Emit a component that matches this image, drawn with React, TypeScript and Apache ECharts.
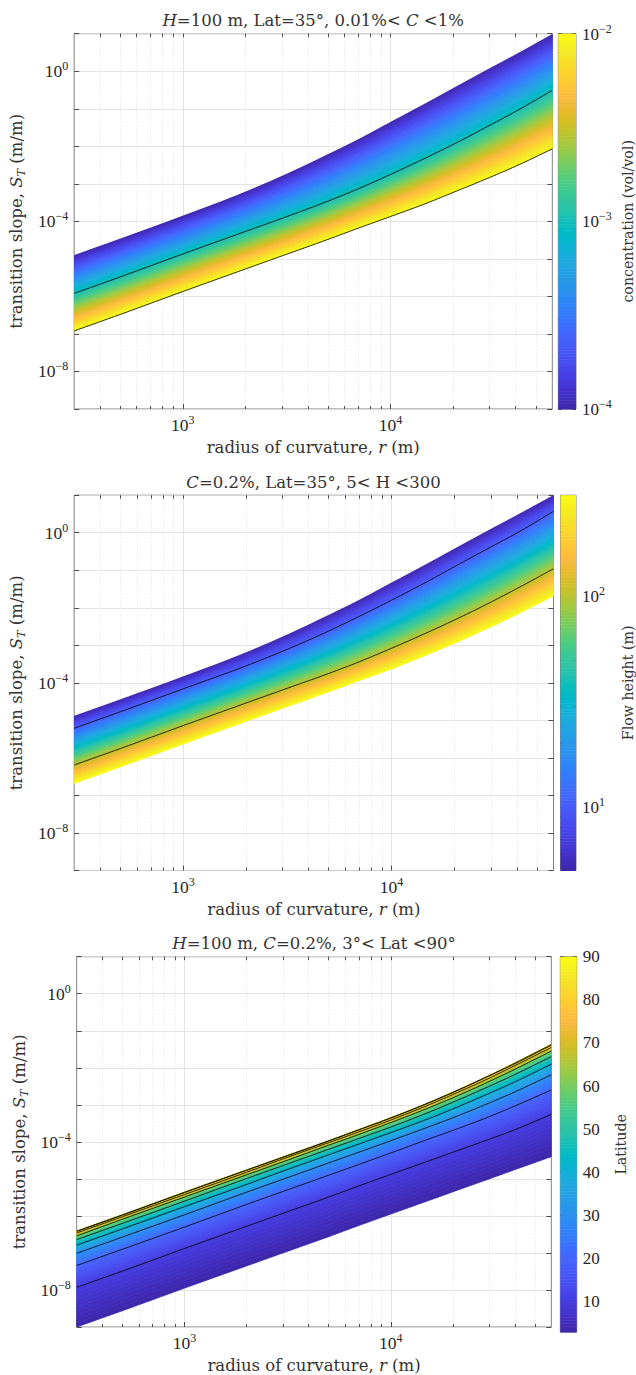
import { useEffect, useRef } from 'react';
import * as echarts from 'echarts';

// ---------------- data (log10 of transition slope S_T) ----------------
const R_M = [300, 500, 1000, 2000, 3000, 5000, 7000, 10000, 15000, 20000, 30000, 40000, 60000];

// Panel 1: H=100 m, Lat=35°, concentration C (vol/vol)
const P1_C = [1e-4, 1e-3, 1e-2];
const P1_C1E4 = [-4.91, -4.47, -3.86, -3.22, -2.8, -2.22, -1.82, -1.36, -0.84, -0.46, 0.07, 0.44, 0.98];
const P1_C1E3 = [-5.92, -5.48, -4.87, -4.27, -3.92, -3.46, -3.13, -2.75, -2.29, -1.95, -1.44, -1.07, -0.51];
const P1_C1E2 = [-6.92, -6.48, -5.87, -5.27, -4.92, -4.48, -4.18, -3.87, -3.51, -3.23, -2.83, -2.53, -2.07];

// Panel 2: C=0.2%, Lat=35°, flow height H (m)
const P2_H = [5, 10, 100, 300];
const P2_H5 = [-4.89, -4.45, -3.84, -3.2, -2.78, -2.2, -1.8, -1.34, -0.82, -0.44, 0.09, 0.46, 0.99];
const P2_H10 = [-5.21, -4.77, -4.16, -3.55, -3.16, -2.62, -2.23, -1.8, -1.29, -0.91, -0.38, -0.01, 0.57];
const P2_H100 = [-6.19, -5.75, -5.14, -4.54, -4.19, -3.75, -3.44, -3.08, -2.65, -2.33, -1.85, -1.49, -0.96];
const P2_H300 = [-6.68, -6.24, -5.63, -5.03, -4.68, -4.24, -3.94, -3.63, -3.24, -2.95, -2.51, -2.18, -1.68];

// Panel 3: H=100 m, C=0.2%, latitude (deg)
const P3_LAT = [3, 10, 20, 30, 40, 50, 60, 70, 80, 90];
const P3_L3 = [-9.0, -8.56, -7.95, -7.35, -7.0, -6.56, -6.26, -5.95, -5.6, -5.35, -5.0, -4.75, -4.4];
const P3_L10 = [-7.93, -7.49, -6.88, -6.28, -5.93, -5.49, -5.19, -4.88, -4.53, -4.28, -3.93, -3.67, -3.26];
const P3_L20 = [-7.34, -6.9, -6.3, -5.69, -5.34, -4.9, -4.61, -4.3, -3.94, -3.69, -3.32, -3.03, -2.6];
const P3_L30 = [-7.01, -6.57, -5.97, -5.36, -5.01, -4.57, -4.28, -3.97, -3.61, -3.35, -2.95, -2.65, -2.19];
const P3_L40 = [-6.79, -6.35, -5.75, -5.15, -4.79, -4.35, -4.06, -3.75, -3.39, -3.11, -2.69, -2.38, -1.9];
const P3_L50 = [-6.64, -6.2, -5.6, -4.99, -4.64, -4.2, -3.91, -3.6, -3.22, -2.93, -2.5, -2.18, -1.7];
const P3_L60 = [-6.54, -6.09, -5.49, -4.89, -4.54, -4.09, -3.8, -3.48, -3.1, -2.81, -2.37, -2.04, -1.55];
const P3_L70 = [-6.46, -6.02, -5.42, -4.82, -4.46, -4.02, -3.73, -3.41, -3.02, -2.72, -2.28, -1.94, -1.45];
const P3_L80 = [-6.42, -5.98, -5.37, -4.77, -4.42, -3.98, -3.68, -3.36, -2.97, -2.67, -2.22, -1.89, -1.39];
const P3_L90 = [-6.41, -5.97, -5.36, -4.76, -4.41, -3.97, -3.67, -3.35, -2.96, -2.66, -2.21, -1.87, -1.37];

// axes
const R_MIN = 300;
const R_MAX = 60000;
const S_EXP_MIN = -9;
const S_EXP_MAX = 1;
const X_LABEL_EXP = [3, 4];
const Y_LABEL_EXP = [-8, -4, 0];
const CB3_LABELS = [10, 20, 30, 40, 50, 60, 70, 80, 90];

// ---------------- parula colormap ----------------
const PARULA = [
  [0.2422, 0.1504, 0.6603], [0.2504, 0.165, 0.7076], [0.2578, 0.1818, 0.7511], [0.2647, 0.1978, 0.7952],
  [0.2706, 0.2147, 0.8364], [0.2751, 0.2342, 0.871], [0.2783, 0.2559, 0.8991], [0.2803, 0.2782, 0.9221],
  [0.2813, 0.3006, 0.9414], [0.281, 0.3228, 0.9579], [0.2795, 0.3447, 0.9717], [0.276, 0.3667, 0.9829],
  [0.2699, 0.3892, 0.9906], [0.2602, 0.4123, 0.9952], [0.244, 0.4358, 0.9988], [0.2206, 0.4603, 0.9973],
  [0.1963, 0.4847, 0.9892], [0.1834, 0.5074, 0.9798], [0.1786, 0.5289, 0.9682], [0.1764, 0.5499, 0.952],
  [0.1687, 0.5703, 0.9359], [0.154, 0.5902, 0.9218], [0.146, 0.6091, 0.9079], [0.138, 0.6276, 0.8973],
  [0.1248, 0.6459, 0.8883], [0.1113, 0.6635, 0.8763], [0.0952, 0.6798, 0.8598], [0.0689, 0.6948, 0.8394],
  [0.0297, 0.7082, 0.8163], [0.0036, 0.7203, 0.7917], [0.0067, 0.7312, 0.766], [0.0433, 0.7411, 0.7394],
  [0.0964, 0.75, 0.712], [0.1408, 0.7584, 0.6842], [0.1717, 0.767, 0.6554], [0.1938, 0.7758, 0.6251],
  [0.2161, 0.7843, 0.5923], [0.247, 0.7918, 0.5567], [0.2906, 0.7973, 0.5188], [0.3406, 0.8008, 0.4789],
  [0.3909, 0.8029, 0.4354], [0.4456, 0.8024, 0.3909], [0.5044, 0.7993, 0.348], [0.5616, 0.7942, 0.3045],
  [0.6174, 0.7876, 0.2612], [0.672, 0.7793, 0.2227], [0.7242, 0.7698, 0.191], [0.7738, 0.7598, 0.1646],
  [0.8203, 0.7498, 0.1535], [0.8634, 0.7406, 0.1596], [0.9035, 0.733, 0.1774], [0.9393, 0.7288, 0.21],
  [0.9728, 0.7298, 0.2394], [0.9956, 0.7434, 0.2371], [0.997, 0.7659, 0.2199], [0.9952, 0.7893, 0.2028],
  [0.9892, 0.8136, 0.1885], [0.9786, 0.8386, 0.1766], [0.9676, 0.8639, 0.1643], [0.961, 0.889, 0.1537],
  [0.9597, 0.9135, 0.1423], [0.9628, 0.9373, 0.1265], [0.9691, 0.9606, 0.1064], [0.9769, 0.9839, 0.0805],
];
function parula(t: number): string {
  const tt = Math.max(0, Math.min(1, t));
  const f = tt * (PARULA.length - 1);
  const i = Math.min(PARULA.length - 2, Math.floor(f));
  const u = f - i;
  const a = PARULA[i];
  const b = PARULA[i + 1];
  const c = [0, 1, 2].map((k) => Math.round(255 * (a[k] + (b[k] - a[k]) * u)));
  return `rgb(${c[0]},${c[1]},${c[2]})`;
}

// smooth drawing of a read curve (cubic Hermite through the read points, like a smoothed line)
function smoothPath(xs: number[], ys: number[], per: number): number[][] {
  const n = xs.length;
  const m: number[] = [];
  for (let i = 0; i < n; i++) {
    if (i === 0) m.push((ys[1] - ys[0]) / (xs[1] - xs[0]));
    else if (i === n - 1) m.push((ys[n - 1] - ys[n - 2]) / (xs[n - 1] - xs[n - 2]));
    else {
      const h0 = xs[i] - xs[i - 1];
      const h1 = xs[i + 1] - xs[i];
      const d0 = (ys[i] - ys[i - 1]) / h0;
      const d1 = (ys[i + 1] - ys[i]) / h1;
      m.push((d0 * h1 + d1 * h0) / (h0 + h1));
    }
  }
  const out: number[][] = [];
  for (let i = 0; i < n - 1; i++) {
    const h = xs[i + 1] - xs[i];
    for (let s = 0; s < per; s++) {
      const t = s / per;
      const t2 = t * t;
      const t3 = t2 * t;
      const y = (2 * t3 - 3 * t2 + 1) * ys[i] + (t3 - 2 * t2 + t) * h * m[i] + (-2 * t3 + 3 * t2) * ys[i + 1] + (t3 - t2) * h * m[i + 1];
      out.push([xs[i] + t * h, y]);
    }
  }
  out.push([xs[n - 1], ys[n - 1]]);
  return out;
}

// ---------------- layout ----------------
const NUM_FONT = '"Liberation Serif", serif';
const WORD_FONT = '"DejaVu Serif", "Liberation Serif", serif';
const TXT = '#262626';
const WTXT = '#333333';
const PLOT_H = 375.3;
const LAYOUT = [
  { top: 33.7, left: 74, right: 552.3, cbL: 558.3, cbR: 576.7 },
  { top: 495.2, left: 73.5, right: 553.5, cbL: 560.5, cbR: 578 },
  { top: 956.7, left: 76.7, right: 551.3, cbL: 560.3, cbR: 576.7 },
];

const supRich = {
  b: { fontFamily: NUM_FONT, fontSize: 17.5, color: TXT, verticalAlign: 'bottom', lineHeight: 18 },
  s: { fontFamily: NUM_FONT, fontSize: 12, color: TXT, verticalAlign: 'bottom', lineHeight: 12, padding: [0, 0, 8, 0] },
};
const cbSupRich = {
  b: { fontFamily: NUM_FONT, fontSize: 17, color: TXT, verticalAlign: 'bottom', lineHeight: 18 },
  s: { fontFamily: NUM_FONT, fontSize: 12, color: TXT, verticalAlign: 'bottom', lineHeight: 12, padding: [0, 0, 8, 0] },
};
const textRich = {
  i: { fontFamily: WORD_FONT, fontSize: 16.5, fontStyle: 'italic', color: WTXT },
  sub: { fontFamily: WORD_FONT, fontSize: 11.5, fontStyle: 'italic', color: WTXT, verticalAlign: 'top', padding: [9, 0, 0, 0] },
};
function powLabel(v: number): string {
  const e = Math.round(v);
  return `{b|10}{s|${e < 0 ? '\u2212' + -e : e}}`;
}
function range(a: number, b: number): number[] {
  const out: number[] = [];
  for (let i = a; i <= b; i++) out.push(i);
  return out;
}
function logMinor(lo: number, hi: number): number[] {
  const out: number[] = [];
  for (let e = Math.floor(lo) - 1; e <= Math.ceil(hi); e++) {
    for (let m = 2; m <= 9; m++) {
      const v = e + Math.log10(m);
      if (v > lo + 1e-6 && v < hi - 1e-6) out.push(v);
    }
  }
  return out;
}

type PanelDef = {
  title: string;
  curves: number[][];
  params: number[];
  black: number[];
  cbMin: number;
  cbMax: number;
  cbLabels: number[];
  cbTicks: number[];
  cbLog: boolean;
  cbName: string;
};

const PANELS: PanelDef[] = [
  {
    title: '{i|H}=100 m, Lat=35°, 0.01%< {i|C} <1%',
    curves: [P1_C1E4, P1_C1E3, P1_C1E2],
    params: P1_C.map(Math.log10),
    black: [1, 2],
    cbMin: Math.log10(P1_C[0]),
    cbMax: Math.log10(P1_C[2]),
    cbLabels: [-4, -3, -2],
    cbTicks: [...range(-4, -2), ...logMinor(-4, -2)],
    cbLog: true,
    cbName: 'concentration (vol/vol)',
  },
  {
    title: '{i|C}=0.2%, Lat=35°, 5< H <300',
    curves: [P2_H5, P2_H10, P2_H100, P2_H300],
    params: P2_H.map(Math.log10),
    black: [1, 2],
    cbMin: Math.log10(P2_H[0]),
    cbMax: Math.log10(P2_H[3]),
    cbLabels: [1, 2],
    cbTicks: [1, 2, ...logMinor(Math.log10(5), Math.log10(300))],
    cbLog: true,
    cbName: 'Flow height (m)',
  },
  {
    title: '{i|H}=100 m, {i|C}=0.2%, 3°< Lat <90°',
    curves: [P3_L3, P3_L10, P3_L20, P3_L30, P3_L40, P3_L50, P3_L60, P3_L70, P3_L80, P3_L90],
    params: P3_LAT,
    black: [1, 2, 3, 4, 5, 6, 7, 8, 9],
    cbMin: 3,
    cbMax: 90,
    cbLabels: CB3_LABELS,
    cbTicks: CB3_LABELS,
    cbLog: false,
    cbName: 'Latitude',
  },
];

function buildOption() {
  const X_MIN = Math.log10(R_MIN);
  const X_MAX = Math.log10(R_MAX);
  const LOG_R = R_M.map(Math.log10);
  const PER = 8;
  const xMinor = logMinor(X_MIN, X_MAX).filter((v) => Math.abs(v - Math.round(v)) > 1e-6);
  const grid: any[] = [];
  const xAxis: any[] = [];
  const yAxis: any[] = [];
  const series: any[] = [];
  const graphic: any[] = [];
  const tickStyle = { color: TXT, width: 0.8 };

  PANELS.forEach((P, p) => {
    const L = LAYOUT[p];
    const gi = grid.length;
    grid.push({ left: L.left, top: L.top, width: L.right - L.left, height: PLOT_H, show: true, borderColor: '#808080', borderWidth: 1, backgroundColor: '#ffffff', z: 0 });
    const xi = xAxis.length;
    xAxis.push({
      type: 'value', gridIndex: gi, min: X_MIN, max: X_MAX, position: 'bottom',
      axisLine: { show: false, onZero: false },
      axisTick: { show: true, inside: true, length: 5, customValues: X_LABEL_EXP, lineStyle: tickStyle },
      axisLabel: { customValues: X_LABEL_EXP, formatter: powLabel, rich: supRich, margin: 7 },
      splitLine: { show: true, lineStyle: { color: '#dcdcdc', width: 0.8 } },
      name: 'radius of curvature, {i|r} (m)', nameLocation: 'middle', nameGap: 30,
      nameTextStyle: { fontFamily: WORD_FONT, fontSize: 16.5, color: WTXT, rich: textRich },
    });
    xAxis.push({
      type: 'value', gridIndex: gi, min: X_MIN, max: X_MAX, position: 'bottom',
      axisLine: { show: false, onZero: false },
      axisTick: { show: true, inside: true, length: 3, customValues: xMinor, lineStyle: tickStyle },
      axisLabel: { show: false },
      splitLine: { show: true, lineStyle: { color: '#e2e2e2', width: 0.8, type: [1.5, 2] } },
    });
    xAxis.push({
      type: 'value', gridIndex: gi, min: X_MIN, max: X_MAX, position: 'top',
      axisLine: { show: false, onZero: false },
      axisTick: { show: true, inside: true, length: 3.5, customValues: [...X_LABEL_EXP, ...xMinor], lineStyle: tickStyle },
      axisLabel: { show: false },
      splitLine: { show: false },
    });
    const yi = yAxis.length;
    yAxis.push({
      type: 'value', gridIndex: gi, min: S_EXP_MIN, max: S_EXP_MAX, position: 'left',
      axisLine: { show: false, onZero: false },
      axisTick: { show: true, inside: true, length: 5, customValues: range(S_EXP_MIN, S_EXP_MAX), lineStyle: tickStyle },
      axisLabel: { customValues: Y_LABEL_EXP, formatter: powLabel, rich: supRich, margin: 6 },
      splitLine: { show: true, lineStyle: { color: '#dedede', width: 0.8 } },
      name: 'transition slope, {i|S}{sub|T} (m/m)', nameLocation: 'middle', nameGap: 40, nameRotate: 90,
      nameTextStyle: { fontFamily: WORD_FONT, fontSize: 16.5, color: WTXT, rich: textRich },
    });
    yAxis.push({
      type: 'value', gridIndex: gi, min: S_EXP_MIN, max: S_EXP_MAX, position: 'right',
      axisLine: { show: false, onZero: false },
      axisTick: { show: true, inside: true, length: 5, customValues: range(S_EXP_MIN, S_EXP_MAX), lineStyle: tickStyle },
      axisLabel: { show: false },
      splitLine: { show: false },
    });

    // ---- colour band (filled between the read curves, coloured by the colour-bar variable) ----
    const items: number[][] = [];
    const subs: number[] = [];
    const span = Math.abs(P.cbMax - P.cbMin);
    for (let k = 0; k < P.curves.length - 1; k++) {
      const n = Math.max(10, Math.round((Math.abs(P.params[k + 1] - P.params[k]) / span) * 90));
      subs.push(n);
      for (let j = 0; j < n; j++) items.push([LOG_R[0], P.curves[k][0], k, j]);
    }
    series.push({
      type: 'custom', xAxisIndex: xi, yAxisIndex: yi, silent: true, clip: true, z: 2,
      encode: { x: 0, y: 1 },
      data: items,
      renderItem: (_params: any, api: any) => {
        const k = api.value(2);
        const j = api.value(3);
        const n = subs[k];
        const t0 = j / n;
        const t1 = (j + 1) / n;
        const A = P.curves[k];
        const B = P.curves[k + 1];
        const y0 = A.map((a, i) => a + (B[i] - a) * t0);
        const y1 = A.map((a, i) => a + (B[i] - a) * t1);
        const upper = smoothPath(LOG_R, y0, PER).map((d) => api.coord(d));
        const lower = smoothPath(LOG_R, y1, PER).map((d) => api.coord(d));
        const pv = P.params[k] + (P.params[k + 1] - P.params[k]) * ((t0 + t1) / 2);
        const col = parula((pv - P.cbMin) / (P.cbMax - P.cbMin));
        return {
          type: 'polygon',
          shape: { points: upper.concat(lower.reverse()) },
          style: { fill: col, stroke: col, lineWidth: 0.8 },
        };
      },
    });
    // ---- black reference curves ----
    series.push({
      type: 'custom', xAxisIndex: xi, yAxisIndex: yi, silent: true, clip: true, z: 3,
      encode: { x: 0, y: 1 },
      data: P.black.map((k) => [LOG_R[0], P.curves[k][0], k]),
      renderItem: (_params: any, api: any) => {
        const k = api.value(2);
        const pts = smoothPath(LOG_R, P.curves[k], PER).map((d) => api.coord(d));
        return { type: 'polyline', shape: { points: pts }, style: { stroke: '#000000', lineWidth: 0.8, fill: null } };
      },
    });

    // ---- colour bar ----
    const cg = grid.length;
    grid.push({ left: L.cbL, top: L.top, width: L.cbR - L.cbL, height: PLOT_H, show: true, borderColor: '#808080', borderWidth: 1 });
    const cx = xAxis.length;
    xAxis.push({ type: 'value', gridIndex: cg, min: 0, max: 1, show: false });
    const cy = yAxis.length;
    yAxis.push({
      type: 'value', gridIndex: cg, min: P.cbMin, max: P.cbMax, position: 'right',
      axisLine: { show: false, onZero: false },
      axisTick: { show: true, inside: true, length: 3.5, customValues: P.cbTicks, lineStyle: tickStyle },
      axisLabel: P.cbLog
        ? { customValues: P.cbLabels, formatter: powLabel, rich: cbSupRich, margin: 6 }
        : { customValues: P.cbLabels, fontFamily: NUM_FONT, fontSize: 17, color: TXT, margin: 6 },
      splitLine: { show: false },
      name: P.cbName, nameLocation: 'middle', nameGap: P.cbLog ? 45 : 37, nameRotate: 90,
      nameTextStyle: { fontFamily: WORD_FONT, fontSize: 14.2, color: WTXT },
    });
    yAxis.push({
      type: 'value', gridIndex: cg, min: P.cbMin, max: P.cbMax, position: 'left',
      axisLine: { show: false, onZero: false },
      axisTick: { show: true, inside: true, length: 3.5, customValues: P.cbTicks, lineStyle: tickStyle },
      axisLabel: { show: false },
      splitLine: { show: false },
    });
    const NCB = 128;
    const cbItems: number[][] = [];
    for (let k = 0; k < NCB; k++) cbItems.push([0.5, P.cbMin + ((k + 0.5) / NCB) * (P.cbMax - P.cbMin), k]);
    series.push({
      type: 'custom', xAxisIndex: cx, yAxisIndex: cy, silent: true, z: 1,
      encode: { x: 0, y: 1 },
      data: cbItems,
      renderItem: (_params: any, api: any) => {
        const k = api.value(2);
        const v0 = P.cbMin + (k / NCB) * (P.cbMax - P.cbMin);
        const v1 = P.cbMin + ((k + 1) / NCB) * (P.cbMax - P.cbMin);
        const p0 = api.coord([0, v0]);
        const p1 = api.coord([1, v1]);
        const col = parula((k + 0.5) / NCB);
        return {
          type: 'rect',
          shape: { x: p0[0], y: p1[1], width: p1[0] - p0[0], height: p0[1] - p1[1] + 0.5 },
          style: { fill: col, stroke: null },
        };
      },
    });

    graphic.push({
      type: 'text', x: (L.left + L.right) / 2, y: L.top - 13, silent: true, z: 10,
      style: { text: P.title, align: 'center', verticalAlign: 'middle', fontFamily: WORD_FONT, fontSize: 16.5, fill: WTXT, rich: textRich },
    });
  });

  return { animation: false, backgroundColor: '#ffffff', grid, xAxis, yAxis, series, graphic };
}

export default function App() {
  const ref = useRef<HTMLDivElement | null>(null);
  useEffect(() => {
    if (!ref.current) return;
    const chart = echarts.init(ref.current, undefined, { renderer: 'svg' });
    chart.setOption(buildOption() as any);
    return () => chart.dispose();
  }, []);
  return <div ref={ref} style={{ position: 'absolute', left: 0, top: 0, width: 636, height: 1375, background: '#fff' }} />;
}
